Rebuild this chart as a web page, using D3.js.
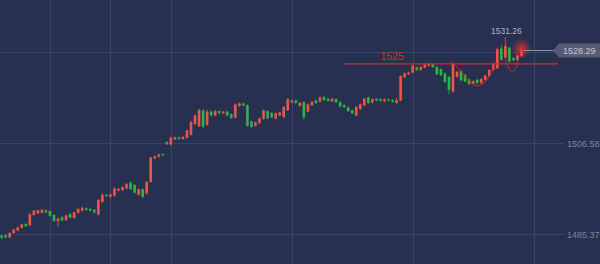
<!DOCTYPE html>
<html>
<head>
<meta charset="utf-8">
<script src="https://cdn.jsdelivr.net/npm/d3@7"></script>
<style>
body{margin:0;background:#283050;}
svg{display:block}
</style>
</head>
<body>
<div id="chart"></div>
<script>
var w = 600;
var h = 264;

// K线数据 (130 根)
var opens = [1485.0,1485.1,1484.6,1485.6,1486.2,1486.8,1487.7,1487.4,1489.8,1490.2,
1490.3,1490.9,1490.7,1489.8,1488.3,1489.3,1488.6,1490.0,1489.1,1490.3,
1490.8,1491.4,1491.2,1491.0,1489.9,1492.8,1494.5,1494.0,1494.3,1495.5,
1495.6,1496.0,1497.3,1496.8,1494.5,1495.8,1494.8,1497.5,1503.0,1503.4,
1504.0,1506.8,1506.2,1507.4,1507.9,1507.5,1507.8,1508.5,1511.0,1510.5,
1514.2,1510.8,1513.9,1513.0,1514.0,1513.5,1513.9,1513.3,1512.5,1515.2,
1515.8,1515.4,1511.6,1510.6,1511.2,1512.2,1514.0,1513.6,1512.3,1513.0,
1512.6,1514.2,1516.0,1516.5,1515.2,1516.1,1513.9,1515.4,1516.5,1516.2,
1517.3,1516.9,1516.3,1516.8,1516.1,1515.4,1514.9,1514.2,1513.0,1514.5,
1515.3,1517.2,1516.0,1516.9,1516.8,1516.3,1516.8,1516.6,1515.9,1516.5,
1521.9,1522.6,1523.0,1524.2,1523.6,1524.2,1524.6,1524.9,1524.3,1523.8,
1522.8,1522.0,1518.6,1522.0,1523.4,1522.5,1521.4,1520.4,1521.3,1520.6,
1521.3,1522.2,1523.6,1524.0,1528.6,1526.5,1528.8,1526.4,1525.9,1526.8];

var highs = [1485.2,1485.3,1485.8,1486.6,1487.1,1487.8,1487.9,1490.3,1491.0,1491.1,
1491.2,1491.1,1490.9,1490.0,1489.2,1489.5,1489.9,1490.2,1490.6,1491.4,
1491.7,1491.6,1491.4,1491.2,1493.6,1494.9,1494.7,1494.8,1496.2,1496.1,
1496.5,1497.3,1497.7,1497.0,1496.0,1496.0,1497.7,1503.4,1503.7,1504.1,
1504.2,1507.0,1508.0,1508.1,1508.1,1508.2,1509.7,1511.7,1513.2,1514.5,
1514.4,1514.3,1514.2,1514.3,1514.2,1514.1,1514.1,1513.5,1515.8,1516.0,
1516.0,1515.6,1511.8,1511.6,1512.5,1514.4,1514.2,1513.8,1513.7,1513.9,
1515.2,1517.0,1516.7,1516.7,1516.2,1516.3,1515.8,1516.4,1516.7,1517.4,
1517.5,1517.1,1517.1,1517.0,1516.3,1515.6,1515.1,1514.4,1515.2,1515.8,
1517.1,1517.4,1517.0,1517.1,1517.0,1517.0,1517.0,1516.8,1517.2,1522.4,
1523.0,1523.2,1524.8,1524.4,1524.5,1525.1,1525.3,1525.1,1524.5,1524.0,
1523.0,1522.2,1525.4,1523.4,1523.6,1522.7,1521.6,1521.2,1521.5,1521.7,
1522.5,1523.8,1525.1,1528.8,1529.5,1531.26,1529.0,1526.6,1527.2,1528.6];

var lows = [1484.2,1484.4,1484.4,1485.4,1486.0,1486.6,1487.0,1487.2,1489.6,1490.0,
1490.1,1490.2,1489.4,1488.2,1487.0,1488.3,1488.4,1489.0,1488.9,1490.1,
1490.6,1490.8,1490.6,1490.2,1489.7,1492.6,1494.0,1493.8,1494.1,1495.3,
1495.4,1495.8,1495.6,1494.8,1494.3,1493.8,1494.6,1497.3,1502.8,1503.2,
1503.5,1506.1,1506.0,1507.2,1507.3,1507.3,1507.6,1508.3,1510.8,1510.3,
1510.0,1510.6,1512.8,1512.8,1513.3,1513.3,1512.8,1512.2,1512.3,1515.0,
1515.1,1510.4,1510.1,1510.4,1511.0,1512.0,1512.1,1512.4,1512.1,1512.8,
1512.4,1514.0,1515.8,1515.7,1515.0,1512.0,1513.7,1515.2,1515.7,1516.0,
1516.4,1516.2,1516.1,1515.9,1514.9,1514.7,1513.8,1513.3,1512.8,1514.3,
1515.1,1515.7,1515.8,1516.3,1516.2,1516.1,1516.3,1516.0,1515.7,1516.3,
1521.7,1522.4,1522.8,1523.4,1523.4,1524.0,1524.4,1524.1,1522.4,1522.2,
1520.6,1518.0,1518.3,1521.8,1521.0,1520.7,1520.1,1520.2,1520.3,1520.4,
1521.1,1522.0,1523.4,1523.8,1525.8,1526.3,1525.4,1525.7,1525.7,1526.6];

var closes = [1484.5,1484.6,1485.6,1486.4,1486.9,1487.6,1487.2,1490.0,1490.8,1490.9,
1491.0,1490.4,1489.6,1488.4,1489.0,1488.5,1489.7,1489.2,1490.4,1491.2,
1491.5,1491.0,1490.8,1490.4,1493.3,1494.5,1494.2,1494.6,1496.0,1495.9,
1496.3,1497.0,1495.8,1495.0,1495.8,1494.0,1497.5,1503.2,1503.5,1503.9,
1503.7,1506.3,1507.8,1507.9,1507.5,1508.0,1509.5,1511.5,1513.0,1514.3,
1510.4,1513.9,1513.0,1514.0,1513.5,1513.9,1513.0,1512.4,1515.6,1515.8,
1515.3,1510.6,1510.3,1511.4,1512.3,1514.2,1512.3,1512.6,1513.5,1513.7,
1515.0,1516.8,1516.5,1515.9,1516.0,1512.6,1515.6,1516.2,1515.9,1517.2,
1516.6,1516.4,1516.9,1516.1,1515.1,1514.9,1514.0,1513.5,1515.0,1515.6,
1516.9,1515.9,1516.8,1516.5,1516.4,1516.8,1516.5,1516.2,1516.6,1522.2,
1522.8,1523.0,1524.6,1523.6,1524.3,1524.8,1525.0,1524.3,1522.6,1522.4,
1520.8,1519.0,1525.0,1523.2,1521.2,1520.9,1520.3,1521.0,1520.5,1521.5,
1522.3,1523.6,1524.9,1528.4,1526.0,1529.2,1525.6,1525.9,1527.0,1528.29];

// 坐标轴刻度
var priceTicks = [1527.79, 1506.58, 1485.37];
var priceTickLabels = ["1527.79", "1506.58", "1485.37"];
var timeGrid = [12, 27, 42, 72, 102, 132];

// 标注
var level = 1525;
var levelLabel = "1525";
var levelSpan = [84.8, 138];   // 红线起止 (K线序号)
var levelTextAt = 94;
var highLabel = "1531.26";
var lastLabel = "1528.29";
// 手绘圈 (序号, 价格)
var curve1 = [[112.0,1525.2],[113.7,1523.6],[115.7,1521.3],[118.0,1519.9],[119.9,1520.8],[121.4,1522.9],[122.7,1525.5]];
var curve2 = [[124.9,1526.4],[125.7,1524.3],[126.7,1523.1],[127.7,1524.3],[128.1,1525.7]];

var upColor = "#ec5645";
var downColor = "#2fb546";
var gridColor = "#3a4267";
var labelColor = "#7c849f";

var candles = opens.map(function(o, i){
    return {i: i, o: o, h: highs[i], l: lows[i], c: closes[i]};
});

var x = d3.scaleLinear().domain([0, 129]).range([1.6, 521.5]);
var y = d3.scaleLinear().domain([1485.37, 1527.79]).range([234, 52]);

var svg = d3.select("#chart").append("svg")
    .attr("width", w)
    .attr("height", h)
    .style("font-family", "'Liberation Sans', Arial, sans-serif");

svg.append("rect").attr("width", w).attr("height", h).attr("fill", "#283050");

var defs = svg.append("defs");
var glow = defs.append("radialGradient").attr("id", "glow");
glow.append("stop").attr("offset", "0%").attr("stop-color", "#ff3030").attr("stop-opacity", 0.75);
glow.append("stop").attr("offset", "100%").attr("stop-color", "#ff3030").attr("stop-opacity", 0);

//网格
svg.selectAll(".vgrid")
    .data(timeGrid)
    .enter()
    .append("line")
    .attr("class", "vgrid")
    .attr("x1", d=>Math.round(x(d))+0.5)
    .attr("x2", d=>Math.round(x(d))+0.5)
    .attr("y1", 0)
    .attr("y2", h)
    .attr("stroke", gridColor)
    .attr("stroke-width", 1);

svg.selectAll(".hgrid")
    .data(priceTicks)
    .enter()
    .append("line")
    .attr("class", "hgrid")
    .attr("x1", 0)
    .attr("x2", 564)
    .attr("y1", d=>Math.round(y(d))+0.5)
    .attr("y2", d=>Math.round(y(d))+0.5)
    .attr("stroke", gridColor)
    .attr("stroke-width", 1);

svg.selectAll(".plabel")
    .data(priceTicks)
    .enter()
    .append("text")
    .attr("class", "plabel")
    .attr("x", 567)
    .attr("y", d=>y(d)+3.5)
    .attr("font-size", "9px")
    .attr("fill", labelColor)
    .text((d,i)=>priceTickLabels[i]);

//K线
var cg = svg.append("g");
cg.selectAll(".wick")
    .data(candles)
    .enter()
    .append("line")
    .attr("class", "wick")
    .attr("x1", d=>x(d.i))
    .attr("x2", d=>x(d.i))
    .attr("y1", d=>y(d.h))
    .attr("y2", d=>y(d.l))
    .attr("stroke", d=>d.c >= d.o ? upColor : downColor)
    .attr("stroke-width", 0.8);

cg.selectAll(".body")
    .data(candles)
    .enter()
    .append("rect")
    .attr("class", "body")
    .attr("x", d=>x(d.i)-1.3)
    .attr("width", 2.6)
    .attr("y", d=>y(Math.max(d.o, d.c)))
    .attr("height", d=>Math.max(1.2, Math.abs(y(d.o)-y(d.c))))
    .attr("fill", d=>d.c >= d.o ? upColor : downColor);

//红色水平线
svg.append("line")
    .attr("x1", x(levelSpan[0]))
    .attr("x2", x(levelSpan[1]))
    .attr("y1", y(level))
    .attr("y2", y(level))
    .attr("stroke", "#e3232c")
    .attr("stroke-width", 1.3);

svg.append("text")
    .attr("x", x(levelTextAt))
    .attr("y", y(level)-3.5)
    .attr("font-size", "10.5px")
    .attr("fill", "#e3232c")
    .text(levelLabel);

//手绘圈
var line = d3.line()
    .x(d=>x(d[0]))
    .y(d=>y(d[1]))
    .curve(d3.curveCatmullRom);

[curve1, curve2].forEach(function(c){
    svg.append("path")
        .attr("d", line(c))
        .attr("fill", "none")
        .attr("stroke", "#e3232c")
        .attr("stroke-width", 1);
});

//最后一根的光晕
var last = candles[candles.length-1];
svg.append("circle")
    .attr("cx", x(last.i))
    .attr("cy", y(last.h))
    .attr("r", 10)
    .attr("fill", "url(#glow)");

//最高价
var hiCandle = candles[d3.maxIndex(candles, d=>d.h)];
svg.append("text")
    .attr("x", x(hiCandle.i)+1)
    .attr("y", y(hiCandle.h)-3)
    .attr("text-anchor", "middle")
    .attr("font-size", "8.5px")
    .attr("fill", "#aeb3c4")
    .text(highLabel);

//现价线与标签
var ly = Math.round(y(last.c))+0.5;
svg.append("line")
    .attr("x1", x(last.i)+2)
    .attr("x2", 556)
    .attr("y1", ly)
    .attr("y2", ly)
    .attr("stroke", "#8e94a8")
    .attr("stroke-width", 1);

svg.append("path")
    .attr("d", "M553," + ly + "L559," + (ly-7) + "L600," + (ly-7) + "L600," + (ly+7) + "L559," + (ly+7) + "Z")
    .attr("fill", "#5b6174")
    .attr("fill-opacity", 0.9);

svg.append("text")
    .attr("x", 563)
    .attr("y", ly+3.5)
    .attr("font-size", "9px")
    .attr("fill", "#c4c8d4")
    .text(lastLabel);
</script>
</body>
</html>
